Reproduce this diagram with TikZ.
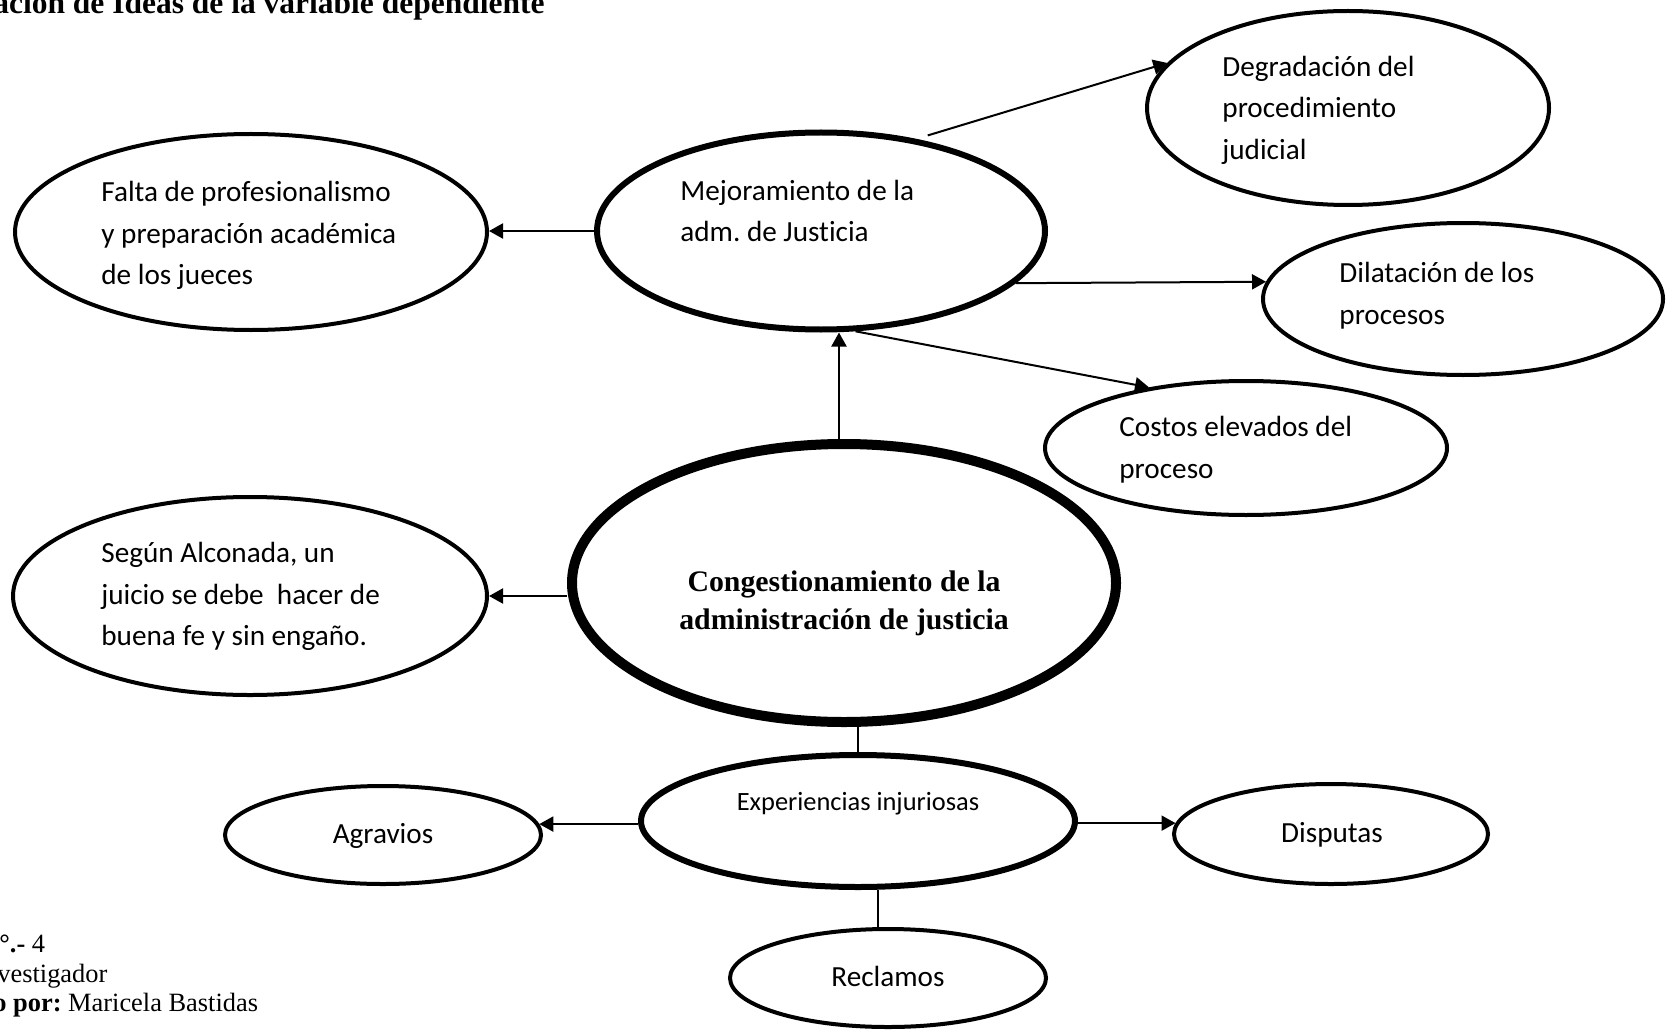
\documentclass[tikz,border=0pt]{standalone}
\usepackage{fontspec}
\setmainfont{Liberation Serif}
\newfontfamily\calib[Ligatures={NoCommon,NoContextual}]{Carlito}
\usetikzlibrary{shapes.geometric,arrows.meta}
\frenchspacing
\begin{document}
\begin{tikzpicture}[x=0.5pt,y=-0.5pt,
  ell/.style={ellipse,draw,inner sep=0pt,line width=2pt,fill=white},
  txt/.style={font=\calib\frenchspacing\fontsize{14.6}{20.75}\selectfont,align=left,inner sep=0pt,anchor=west},
  ctxt/.style={font=\calib\fontsize{14.6}{18}\selectfont,inner sep=0pt},
  arr/.style={line width=1pt,-{Triangle[length=7pt,width=7.5pt]}},
  plainline/.style={line width=1pt},
  foot/.style={font=\frenchspacing\fontsize{13.2}{15}\selectfont,anchor=base west,inner sep=0pt}
]
\useasboundingbox (0,0) rectangle (1668,1032);
\clip (0,0) rectangle (1668,1032);

% ellipses
\node[ell,minimum width=201pt,minimum height=97pt] (deg) at (1348,108) {};
\node[ell,minimum width=236pt,minimum height=98pt] (fal) at (251,232) {};
\node[ell,line width=3pt,minimum width=224pt,minimum height=98.5pt] (mej) at (821,231) {};
\node[ell,minimum width=200pt,minimum height=76pt] (dil) at (1463,299) {};
\node[ell,minimum width=201pt,minimum height=67pt] (cos) at (1246,448) {};
\node[ell,minimum width=237pt,minimum height=99pt] (seg) at (250,596) {};
\node[ell,line width=5pt,minimum width=272pt,minimum height=139pt] (con) at (844,583) {};
\node[ell,line width=3pt,minimum width=217pt,minimum height=66pt] (exp) at (858,821) {};
\node[ell,minimum width=158pt,minimum height=49pt] (agr) at (383,835) {};
\node[ell,minimum width=157pt,minimum height=50pt] (dis) at (1331,834) {};
\node[ell,minimum width=158pt,minimum height=49pt] (rec) at (888,978) {};

% texts
\node[txt] (tdeg) at (1222,110) {Degradación del\\procedimiento\\judicial};
\node[txt] (tfal) at (101,235.5) {Falta de profesionalismo\\y preparación académica\\de los jueces};
\node[txt] (tmej) at (680,211) {Mejoramiento de la\\adm. de Justicia};
\node[txt] (tdil) at (1339,295.5) {Dilatación de los\\procesos};
\node[txt] (tcos) at (1119,449.5) {Costos elevados del\\proceso};
\node[txt] (tseg) at (101,596.5) {Según Alconada, un\\juicio se debe\ \ hacer de\\buena fe y sin engaño.};
\node[font=\bfseries\fontsize{14.9}{19}\selectfont,align=center,inner sep=0pt] (tcon) at (844,603.5) {Congestionamiento de la\\administración de justicia};
\node[font=\calib\fontsize{13.2}{16}\selectfont,inner sep=0pt] (texp) at (858,804) {Experiencias injuriosas};
\node[ctxt] (tagr) at (383,836) {Agravios};
\node[ctxt] (tdis) at (1332,835) {Disputas};
\node[ctxt] (trec) at (888,976) {Reclamos};

% title and footer
\node[font=\bfseries\fontsize{15.75}{18}\selectfont,anchor=base east,inner sep=0pt] (title) at (545,14) {ación de Ideas de la variable dependiente};
\node[foot] (f1) at (-1,952) {\textbf{°.-} 4};
\node[foot] (f2) at (-3,982) {vestigador};
\node[foot] (f3) at (-7,1011) {\textbf{o por:} Maricela Bastidas};

% connectors
\draw[arr] (mej.west) -- (fal.east |- mej.west);
\draw[arr] ([yshift=3pt]mej.40) -- (deg.166);
\draw[arr] (mej.-15) -- (dil.175);
\draw[arr] (mej.-71) -- (cos.148);
\draw[arr] (con.92) -- (con.92 |- mej.south);
\draw[arr] (con.west |- seg.east) -- (seg.east);
\draw[plainline] (exp.north) -- (exp.north |- con.south);
\draw[arr] (agr.4 -| exp.west) -- (agr.4);
\draw[arr] (dis.176 -| exp.east) -- (dis.176);
\draw[plainline] (rec.101) -- (rec.101 |- exp.south);
\end{tikzpicture}
\end{document}
